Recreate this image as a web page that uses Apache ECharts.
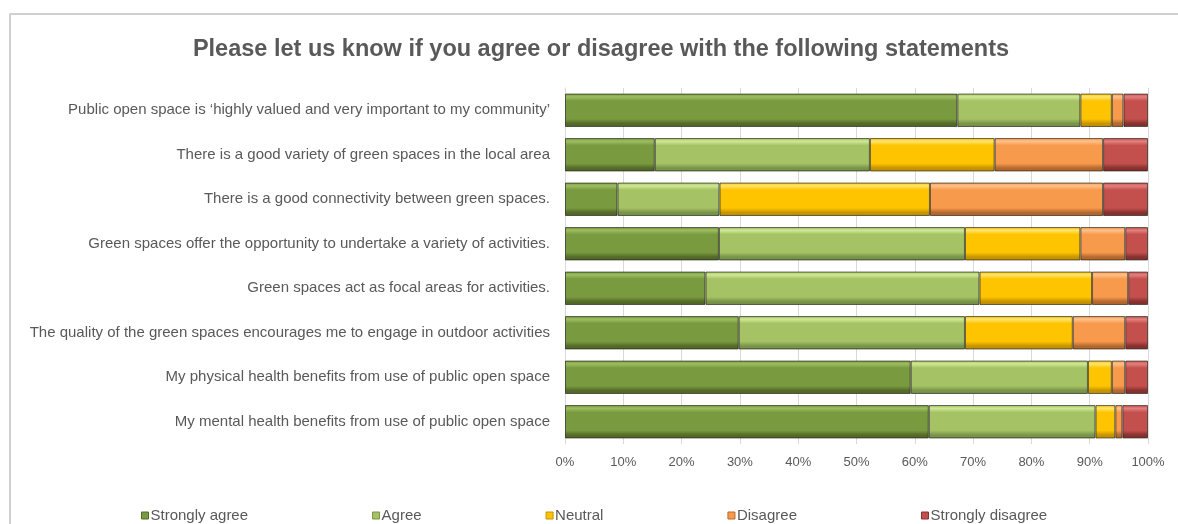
<!DOCTYPE html>
<html>
<head>
<meta charset="utf-8">
<script src="https://cdn.jsdelivr.net/npm/echarts@6/dist/echarts.min.js"></script>
<style>
  html, body { margin: 0; padding: 0; background: #ffffff; }
  #chart { width: 1178px; height: 524px; }
</style>
</head>
<body>
<div id="chart"></div>
<script>
// Survey statements (top to bottom)
var statements = [
  "Public open space is \u2018highly valued and very important to my community\u2019",
  "There is a good variety of green spaces in the local area",
  "There is a good connectivity between green spaces.",
  "Green spaces offer the opportunity to undertake a variety of activities.",
  "Green spaces act as focal areas for activities.",
  "The quality of the green spaces encourages me to engage in outdoor activities",
  "My physical health benefits from use of public open space",
  "My mental health benefits from use of public open space"
];

// Share of responses (%) per statement
var stronglyAgree    = [67.3, 15.4,  9.0, 26.4, 24.1, 29.8, 59.3, 62.4];
var agree            = [21.1, 36.9, 17.5, 42.2, 47.0, 38.8, 30.4, 28.6];
var neutral          = [ 5.4, 21.4, 36.1, 19.8, 19.3, 18.5,  4.1,  3.4];
var disagree         = [ 2.0, 18.6, 29.7,  7.7,  6.2,  9.0,  2.3,  1.2];
var stronglyDisagree = [ 4.2,  7.7,  7.7,  3.9,  3.4,  3.9,  3.9,  4.4];

var seriesNames = ["Strongly agree", "Agree", "Neutral", "Disagree", "Strongly disagree"];
var seriesData = [stronglyAgree, agree, neutral, disagree, stronglyDisagree];

// Bevel-like shading: [highlight, base, shadow]
var palette = [
  ["#9CBD60", "#7A9A40", "#536A28"],
  ["#CFE894", "#A5C364", "#78934A"],
  ["#FFE46E", "#FFC400", "#C69300"],
  ["#FFC08A", "#F89A4C", "#B4682E"],
  ["#E4807E", "#C4504E", "#86302F"]
];

function bevel(c) {
  return new echarts.graphic.LinearGradient(0, 0, 0, 1, [
    { offset: 0.0,  color: c[1] },
    { offset: 0.1,  color: c[0] },
    { offset: 0.22, color: c[1] },
    { offset: 0.76, color: c[1] },
    { offset: 0.9,  color: c[2] },
    { offset: 1.0,  color: c[2] }
  ]);
}

var chart = echarts.init(document.getElementById("chart"), null, { renderer: "canvas" });

var series = seriesNames.map(function (name, i) {
  return {
    name: name,
    type: "bar",
    stack: "total",
    barCategoryGap: "25%",
    data: seriesData[i],
    itemStyle: {
      color: bevel(palette[i]),
      borderColor: "rgba(25,25,15,0.65)",
      borderWidth: 1
    },
    emphasis: { disabled: true }
  };
});

chart.setOption({
  animation: false,
  title: {
    text: "Please let us know if you agree or disagree with the following statements",
    left: 596,
    textAlign: "center",
    top: 33,
    textStyle: { fontFamily: "Liberation Sans", fontSize: 23.5, fontWeight: "bold", color: "#595959" }
  },
  legend: {
    left: 136,
    top: 503,
    data: seriesNames.map(function (name, i) {
      return { name: name, itemStyle: { color: palette[i][1], borderColor: palette[i][2], borderWidth: 1 } };
    }),
    icon: "rect",
    itemWidth: 7,
    itemHeight: 7,
    itemGap: 124,
    selectedMode: false,
    textStyle: { fontFamily: "Liberation Sans", fontSize: 15, color: "#595959", padding: [0, 0, 0, -3] }
  },
  grid: { left: 565, right: 30, top: 88, bottom: 80 },
  xAxis: {
    type: "value",
    min: 0,
    max: 100,
    interval: 10,
    axisLine: { show: false },
    axisTick: { show: false },
    axisLabel: {
      formatter: "{value}%",
      margin: 12,
      fontFamily: "Liberation Sans",
      fontSize: 13,
      color: "#595959"
    },
    splitLine: { show: true, lineStyle: { color: "#D9D9D9", width: 1 } }
  },
  yAxis: {
    type: "category",
    inverse: true,
    data: statements,
    axisLine: { show: true, lineStyle: { color: "#D9D9D9" } },
    axisTick: { show: false },
    axisLabel: {
      margin: 15,
      fontFamily: "Liberation Sans",
      fontSize: 15,
      color: "#595959"
    }
  },
  graphic: [
    { type: "line", shape: { x1: 9.5, y1: 14, x2: 1178, y2: 14 }, style: { stroke: "#D0D0D0", lineWidth: 2 } },
    { type: "line", shape: { x1: 10, y1: 14, x2: 10, y2: 524 }, style: { stroke: "#D0D0D0", lineWidth: 2 } }
  ],
  series: series
});
</script>
</body>
</html>
